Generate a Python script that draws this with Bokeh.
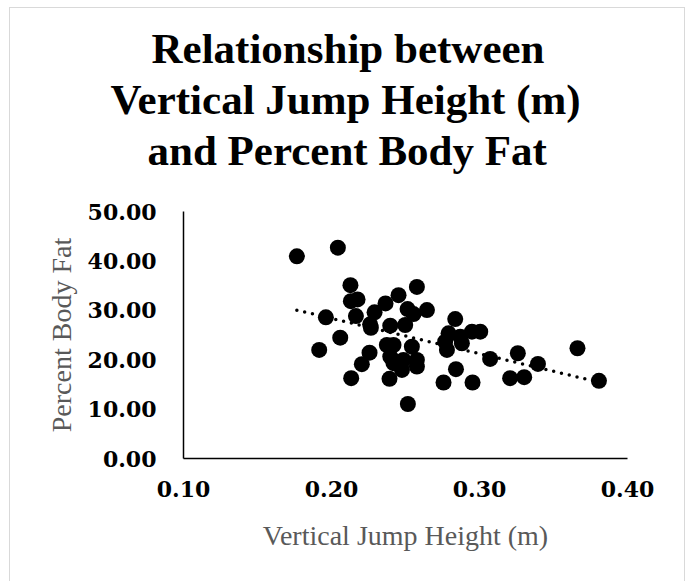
import numpy as np
from bokeh.plotting import figure
from bokeh.models import FixedTicker, NumeralTickFormatter, Range1d, Title
from bokeh.embed import file_html
from bokeh.resources import INLINE

# Vertical jump height (m) and percent body fat
jump_height = [0.1766, 0.2043, 0.2128, 0.2131, 0.2176, 0.2365, 0.2453, 0.1962,
               0.2165, 0.2291, 0.2261, 0.2266, 0.2397, 0.2059, 0.1917, 0.2257,
               0.2205, 0.2133, 0.2392, 0.2577, 0.2514, 0.2554, 0.2645, 0.2498,
               0.2836, 0.2791, 0.2768, 0.2780, 0.2870, 0.2881, 0.2949, 0.3005,
               0.3072, 0.2841, 0.2757, 0.2953, 0.2516, 0.2374, 0.2419, 0.2543,
               0.2397, 0.2486, 0.2577, 0.2419, 0.2476, 0.2577, 0.3259, 0.3662,
               0.3395, 0.3207, 0.3302, 0.3807]
body_fat = [40.93, 42.68, 35.08, 31.85, 32.20, 31.39, 33.06, 28.57,
            28.83, 29.58, 27.16, 26.47, 26.88, 24.46, 21.98, 21.43,
            19.09, 16.27, 16.13, 34.74, 30.24, 29.23, 30.04, 27.02,
            28.23, 25.34, 23.65, 21.98, 24.66, 23.33, 25.67, 25.67,
            20.16, 18.08, 15.38, 15.38, 11.03, 22.98, 22.98, 22.64,
            20.63, 19.96, 19.96, 19.29, 17.94, 18.61, 21.31, 22.32,
            19.15, 16.27, 16.47, 15.73]

x_ticks = [0.10, 0.20, 0.30, 0.40]
y_ticks = [0, 10, 20, 30, 40, 50]

title_lines = ["Relationship between", "Vertical Jump Height (m)", "and Percent Body Fat"]
title_offsets = [-32, -73, -36]
x_title = "Vertical Jump Height (m)"
y_title = "Percent Body Fat"

p = figure(width=674, height=574, output_backend="svg", toolbar_location=None,
           x_range=Range1d(0.10, 0.40), y_range=Range1d(0, 50),
           margin=(8, 0, 0, 10), styles={"outline": "1px solid #d9d9d9"},
           min_border_left=173, min_border_right=57, min_border_top=203,
           min_border_bottom=124, title=None)
p.outline_line_color = None
p.grid.visible = False
p.background_fill_color = "white"
p.border_fill_color = "white"

for ax, ticks in ((p.xaxis[0], x_ticks), (p.yaxis[0], y_ticks)):
    ax.ticker = FixedTicker(ticks=ticks)
    ax.formatter = NumeralTickFormatter(format="0.00")
    ax.major_tick_out = 0
    ax.major_tick_in = 0
    ax.minor_tick_out = 0
    ax.minor_tick_in = 0
    ax.axis_line_color = "black"
    ax.axis_line_width = 1.5
    ax.major_label_text_font = "DejaVu Serif"
    ax.major_label_text_font_style = "bold"
    ax.major_label_text_font_size = "22px"
    ax.major_label_text_color = "black"
    ax.axis_label_text_font = "Liberation Serif"
    ax.axis_label_text_font_style = "normal"
    ax.axis_label_text_font_size = "28px"
    ax.axis_label_text_color = "#595959"

p.xaxis[0].axis_label = x_title
p.yaxis[0].axis_label = y_title
p.xaxis[0].major_label_standoff = 22
p.xaxis[0].axis_label_standoff = 20
p.yaxis[0].major_label_standoff = 27
p.yaxis[0].axis_label_standoff = 8

# trend line (least squares fit of the data)
xs = np.array(jump_height)
ys = np.array(body_fat)
m, b = np.polyfit(xs, ys, 1)
tx = np.array([xs.min(), xs.max()])
p.line(tx, m * tx + b, line_color="black", line_width=3.5, line_dash="0 8",
       line_cap="round")

p.scatter(jump_height, body_fat, size=16, fill_color="black", line_color=None)

# spacer between the frame and the title block
p.add_layout(Title(text=" ", standoff=0, text_font="Liberation Serif",
                   text_font_size="31px"), "above")
# title: three stacked lines, the last added is the top one
for t, off in reversed(list(zip(title_lines, title_offsets))):
    p.add_layout(Title(text=t, align="left", offset=off, standoff=2,
                       text_font="Liberation Serif", text_font_style="bold",
                       text_font_size="43px", text_color="black"), "above")

open("out.html", "w").write(file_html(p, INLINE))
